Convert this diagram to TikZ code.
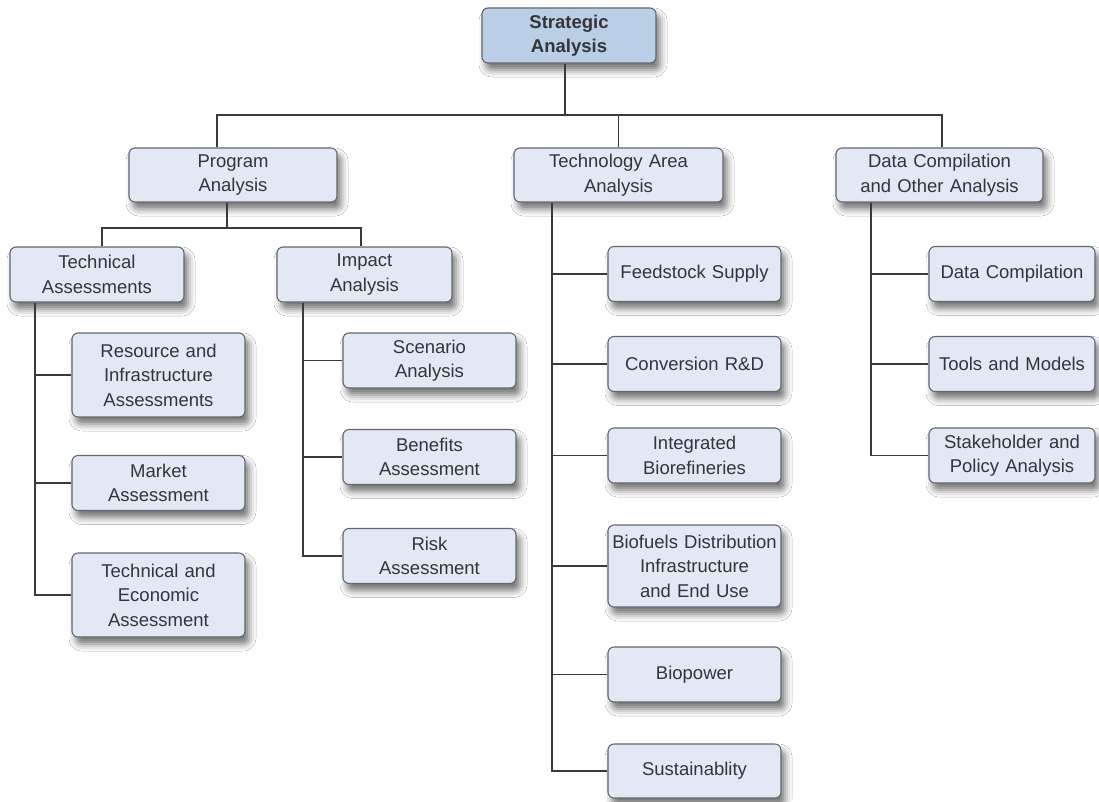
\documentclass[tikz,border=0pt]{standalone}
\usepackage{fontspec}
\setmainfont{Liberation Sans}
\usetikzlibrary{shadows.blur}
\definecolor{boxfill}{RGB}{226,233,244}
\definecolor{topfill}{RGB}{186,206,229}
\definecolor{boxline}{RGB}{98,102,112}
\definecolor{txt}{RGB}{52,52,58}
\definecolor{conncol}{RGB}{58,58,60}
\tikzset{
  box/.style={draw=boxline, fill=boxfill, rounded corners=6pt, line width=1.1pt,
    blur shadow={shadow xshift=4pt, shadow yshift=-7pt, shadow blur radius=7pt, shadow opacity=55},
    align=center, text=txt, inner sep=0pt, font=\fontsize{18.5}{24.5}\selectfont},
  topbox/.style={box, fill=topfill, font=\fontsize{18.5}{24.5}\selectfont\bfseries},
  conn/.style={draw=conncol, line width=1.5pt}
}
\begin{document}
\begin{tikzpicture}[x=1pt,y=-1pt]
\useasboundingbox[fill=white] (0,0) rectangle (1099,801);
% top
\node[topbox, minimum width=174pt, minimum height=55pt, text width=170pt] (sa) at (569,35.5) {Strategic\\Analysis};
% level 2
\node[box, minimum width=208pt, minimum height=54pt, text width=200pt] (pa) at (233,175) {Program\\Analysis};
\node[box, minimum width=209pt, minimum height=54pt, text width=200pt] (ta) at (618.5,175) {Technology Area\\Analysis};
\node[box, minimum width=207pt, minimum height=54pt, text width=200pt] (da) at (939.5,175) {Data Compilation\\and Other Analysis};
% level 3 (program)
\node[box, minimum width=174pt, minimum height=55pt, text width=170pt] (tas) at (97,274.5) {Technical\\Assessments};
\node[box, minimum width=175pt, minimum height=55pt, text width=170pt] (ia) at (364.5,274.5) {Impact\\Analysis};
% technical assessments children
\node[box, minimum width=173pt, minimum height=84pt, text width=170pt] (r1) at (158.5,375) {Resource and\\Infrastructure\\Assessments};
\node[box, minimum width=173pt, minimum height=55pt, text width=170pt] (r2) at (158.5,483) {Market\\Assessment};
\node[box, minimum width=173pt, minimum height=84pt, text width=170pt] (r3) at (158.5,595) {Technical and\\Economic\\Assessment};
% impact children
\node[box, minimum width=173pt, minimum height=55pt, text width=170pt] (s1) at (429.5,360.5) {Scenario\\Analysis};
\node[box, minimum width=173pt, minimum height=55pt, text width=170pt] (s2) at (429.5,457) {Benefits\\Assessment};
\node[box, minimum width=173pt, minimum height=55pt, text width=170pt] (s3) at (429.5,556) {Risk\\Assessment};
% technology children
\node[box, minimum width=173pt, minimum height=55pt, text width=170pt] (f1) at (694.5,274) {Feedstock Supply};
\node[box, minimum width=173pt, minimum height=55pt, text width=170pt] (f2) at (694.5,364) {Conversion R\&D};
\node[box, minimum width=173pt, minimum height=55pt, text width=170pt] (f3) at (694.5,455.5) {Integrated\\Biorefineries};
\node[box, minimum width=173pt, minimum height=82pt, text width=172pt] (f4) at (694.5,566) {Biofuels Distribution\\Infrastructure\\and End Use};
\node[box, minimum width=173pt, minimum height=55pt, text width=170pt] (f5) at (694.5,674.5) {Biopower};
\node[box, minimum width=173pt, minimum height=54pt, text width=170pt] (f6) at (694.5,771) {Sustainablity};
% data children
\node[box, minimum width=166pt, minimum height=55pt, text width=164pt] (d1) at (1012,274) {Data Compilation};
\node[box, minimum width=166pt, minimum height=55pt, text width=164pt] (d2) at (1012,364) {Tools and Models};
\node[box, minimum width=166pt, minimum height=55pt, text width=164pt] (d3) at (1012,455.5) {Stakeholder and\\Policy Analysis};
% helper coordinates
\coordinate (bar1) at (0,115);
\coordinate (bar2) at (0,228);
\coordinate (tk1) at (35,0);
\coordinate (tk2) at (303,0);
\coordinate (tk3) at (552,0);
\coordinate (tk4) at (871,0);
% level 1 -> 2
\draw[conn] ([xshift=-4pt]sa.south) -- ([xshift=-4pt]sa.south |- bar1);
\draw[conn] ([xshift=-16pt]pa.north) |- ([xshift=2.5pt]da.north |- bar1) -- ([xshift=2.5pt]da.north);
\draw[conn] (ta.north) -- (ta.north |- bar1);
% program -> children
\draw[conn] ([xshift=-6pt]pa.south) -- ([xshift=-6pt]pa.south |- bar2);
\draw[conn] ([xshift=5pt]tas.north) |- ([xshift=-3.5pt]ia.north |- bar2) -- ([xshift=-3.5pt]ia.north);
% technical assessments trunk
\draw[conn] (tas.south -| tk1) |- (r3.west);
\draw[conn] (r1.west -| tk1) -- (r1.west);
\draw[conn] (r2.west -| tk1) -- (r2.west);
% impact trunk
\draw[conn] (ia.south -| tk2) |- (s3.west);
\draw[conn] (s1.west -| tk2) -- (s1.west);
\draw[conn] (s2.west -| tk2) -- (s2.west);
% technology trunk
\draw[conn] (ta.south -| tk3) |- (f6.west);
\draw[conn] (f1.west -| tk3) -- (f1.west);
\draw[conn] (f2.west -| tk3) -- (f2.west);
\draw[conn] (f3.west -| tk3) -- (f3.west);
\draw[conn] (f4.west -| tk3) -- (f4.west);
\draw[conn] (f5.west -| tk3) -- (f5.west);
% data trunk
\draw[conn] (da.south -| tk4) |- (d3.west);
\draw[conn] (d1.west -| tk4) -- (d1.west);
\draw[conn] (d2.west -| tk4) -- (d2.west);
\end{tikzpicture}
\end{document}
